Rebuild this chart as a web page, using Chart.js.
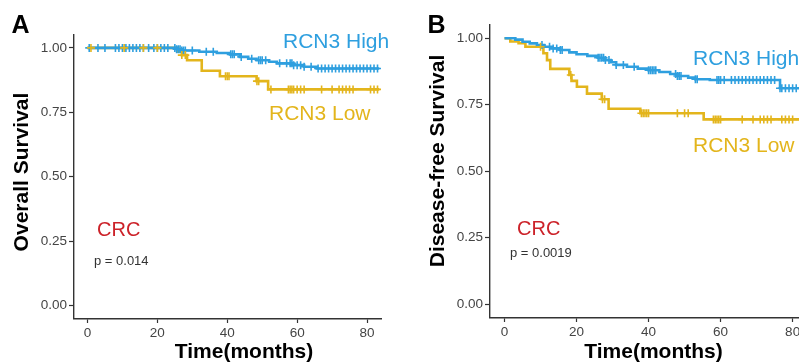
<!DOCTYPE html>
<html>
<head>
<meta charset="utf-8">
<script src="https://cdn.jsdelivr.net/npm/chart.js@4.4.1/dist/chart.umd.min.js"></script>
<style>
  html, body { margin:0; padding:0; background:#fff; }
  #wrap { position:relative; width:799px; height:364px; overflow:hidden; background:#fff; font-family:"Liberation Sans", Arial, sans-serif; }
  canvas { position:absolute; top:0; }
  .t { position:absolute; white-space:nowrap; line-height:1; }
</style>
</head>
<body>
<div id="wrap">
  <canvas id="cA" width="400" height="364" style="left:0px"></canvas>
  <canvas id="cB" width="430" height="364" style="left:400px"></canvas>
</div>
<script>
// ---- tick labels ----
const xTicks = [0, 20, 40, 60, 80];
const xTickLabels = ['0', '20', '40', '60', '80'];
const yTicks = [0, 0.25, 0.5, 0.75, 1];
const yTickLabels = ['0.00', '0.25', '0.50', '0.75', '1.00'];

// ---- Panel A: Overall survival (Kaplan-Meier steps) ----
const osHighTime = [0, 25.5, 27, 32, 37, 40.8, 43.6, 46, 48.4, 52, 54.2, 58.9, 62, 65.6, 83.5];
const osHighSurv = [1, 0.995, 0.99, 0.985, 0.98, 0.975, 0.965, 0.958, 0.952, 0.946, 0.94, 0.933, 0.927, 0.92, 0.92];
const osLowTime = [0, 26, 27, 28.5, 32.7, 37.9, 48.4, 51.7, 83.5];
const osLowSurv = [1, 0.985, 0.972, 0.952, 0.911, 0.89, 0.871, 0.839, 0.839];
const osHighCensor = [0.5, 3, 5, 8, 9, 10, 11, 12, 13, 14, 15, 16, 17.5, 19, 20, 21, 22, 23, 25, 25.5, 26, 26.5, 27, 27.5, 28, 30, 34, 36, 41, 41.5, 42, 44, 47, 49, 49.5, 50, 51, 55, 57, 58, 58.5, 59, 60, 61, 62, 64, 66, 67, 68, 69, 70, 71, 72, 73, 74, 75, 76, 77, 78, 79, 80, 81, 82, 83];
const osLowCensor = [1, 10.5, 16, 20, 27, 28, 39.5, 40, 40.5, 48.5, 49, 52.5, 57.5, 58, 58.5, 59, 60, 61, 62, 67, 70, 72, 73, 74, 75, 76, 81, 82, 83];

// ---- Panel B: Disease-free survival ----
const dfsHighTime = [0, 3, 5, 7, 9, 11, 13, 15.5, 18, 20, 23, 26, 28, 29.5, 31, 34, 37, 40, 43, 46, 48, 51, 53, 57, 76.5, 87];
const dfsHighSurv = [1, 0.995, 0.987, 0.981, 0.975, 0.968, 0.962, 0.956, 0.947, 0.94, 0.934, 0.927, 0.918, 0.91, 0.9, 0.893, 0.886, 0.88, 0.873, 0.866, 0.858, 0.852, 0.846, 0.843, 0.812, 0.812];
const dfsLowTime = [0, 1.6, 3.9, 5.8, 10.8, 11.8, 12.7, 18, 18.6, 20.1, 22.9, 27, 28.9, 37.7, 55.3, 87];
const dfsLowSurv = [1, 0.988, 0.982, 0.968, 0.944, 0.918, 0.885, 0.862, 0.84, 0.818, 0.792, 0.771, 0.735, 0.718, 0.695, 0.695];
const dfsHighCensor = [10.4, 12.5, 13.5, 14.5, 15.5, 16, 26, 26.5, 27, 27.5, 28, 29, 31, 33, 36, 40, 40.5, 41, 41.5, 42, 47.5, 48, 48.5, 49, 53, 53.5, 59, 59.5, 60, 61, 63, 64, 65, 66, 67, 68, 69, 70, 71, 72, 73, 74, 75, 76.5, 77, 78, 79, 80, 81, 82, 83, 84, 85, 86];
const dfsLowCensor = [10, 18.4, 27.2, 27.8, 38, 38.5, 39, 39.5, 40, 48, 50, 51, 58, 58.5, 59, 59.5, 60, 66, 69, 71, 72, 73, 74, 77, 78, 79, 80, 82, 84, 86];

const BLUE = '#2E9FDF';
const YELLOW = '#E3B51C';
const RED = '#CC2229';
const FONT = '"Liberation Sans", Arial, sans-serif';

function stepAt(times, surv, t) {
  let v = surv[0];
  for (let i = 0; i < times.length; i++) { if (times[i] <= t) v = surv[i]; }
  return v;
}
function pts(times, surv) { return times.map((t, i) => ({x: t, y: surv[i]})); }
function cens(ct, times, surv) { return ct.map(t => ({x: t, y: stepAt(times, surv, t)})); }

function makeChart(id, cfg) {
  const lineDs = (data, color, order) => ({
    type: 'line', data, borderColor: color, backgroundColor: color, borderWidth: 2.6,
    stepped: true, pointRadius: 0, fill: false, order
  });
  const censDs = (data, color, order) => ({
    type: 'scatter', data, showLine: false, pointStyle: 'cross', pointRadius: 4,
    pointBorderWidth: 1.6, borderColor: color, backgroundColor: color, order
  });
  return new Chart(document.getElementById(id), {
    type: 'line',
    data: {
      datasets: [
        censDs(cens(cfg.lowC, cfg.lowT, cfg.lowS), YELLOW, 0),
        lineDs(pts(cfg.highT, cfg.highS), BLUE, 1),
        censDs(cens(cfg.highC, cfg.highT, cfg.highS), BLUE, 2),
        lineDs(pts(cfg.lowT, cfg.lowS), YELLOW, 3)
      ]
    },
    options: {
      responsive: false, animation: false, devicePixelRatio: 1,
      layout: { padding: cfg.padding },
      plugins: { legend: { display: false }, tooltip: { enabled: false } },
      scales: {
        x: {
          type: 'linear', min: cfg.xmin, max: cfg.xmax,
          afterBuildTicks: s => { s.ticks = xTicks.map(v => ({value: v})); },
          afterFit: s => { s.height = cfg.xh; },
          ticks: { callback: (v) => xTickLabels[xTicks.indexOf(v)], color: '#444', font: {family: FONT, size: 13.5}, padding: 2, maxRotation: 0 },
          grid: { drawOnChartArea: false, drawTicks: true, tickLength: 4.5, tickColor: '#333', tickWidth: 1.2 },
          border: { display: true, color: '#333', width: 1.4 }
        },
        y: {
          type: 'linear', min: -0.05, max: 1.05,
          afterBuildTicks: s => { s.ticks = yTicks.map(v => ({value: v})); },
          afterFit: s => { s.width = cfg.yw; },
          ticks: { callback: (v) => yTickLabels[yTicks.indexOf(v)], color: '#444', font: {family: FONT, size: 13.5}, padding: 2 },
          grid: { drawOnChartArea: false, drawTicks: true, tickLength: 4.5, tickColor: '#333', tickWidth: 1.2 },
          border: { display: true, color: '#333', width: 1.4 }
        }
      }
    }
  });
}

makeChart('cA', {
  highT: osHighTime, highS: osHighSurv, lowT: osLowTime, lowS: osLowSurv,
  highC: osHighCensor, lowC: osLowCensor,
  xmin: -4, xmax: 84, xh: 45.5, yw: 73.5,
  padding: {top: 35, right: 19, left: 0, bottom: 0}
});
makeChart('cB', {
  highT: dfsHighTime, highS: dfsHighSurv, lowT: dfsLowTime, lowS: dfsLowSurv,
  highC: dfsHighCensor, lowC: dfsLowCensor,
  xmin: -4.17, xmax: 87.6, xh: 46.5, yw: 89.5,
  padding: {top: 25, right: 10, left: 0, bottom: 0}
});

// ---- text overlays ----
const wrap = document.getElementById('wrap');
function txt(s, x, baseline, size, opts = {}) {
  const d = document.createElement('div');
  d.className = 't';
  d.textContent = s;
  d.style.fontSize = size + 'px';
  d.style.fontWeight = opts.bold ? 'bold' : 'normal';
  d.style.color = opts.color || '#000';
  d.style.top = (baseline - 0.8465 * size) + 'px';
  d.style.left = x + 'px';
  if (opts.center) d.style.transform = 'translateX(-50%)';
  wrap.appendChild(d);
}
function vtxt(s, baselineX, cy, size) {
  const d = document.createElement('div');
  d.className = 't';
  d.textContent = s;
  d.style.fontSize = size + 'px';
  d.style.fontWeight = 'bold';
  d.style.color = '#000';
  d.style.left = (baselineX - 0.3465 * size) + 'px';
  d.style.top = cy + 'px';
  d.style.transform = 'translate(-50%, -50%) rotate(-90deg)';
  wrap.appendChild(d);
}

txt('A', 11.5, 33, 25, {bold: true});
txt('B', 427.5, 33, 25, {bold: true});
vtxt('Overall Survival', 27, 172, 21);
vtxt('Disease-free Survival', 443, 160.5, 21);
txt('Time(months)', 244, 358, 21, {bold: true, center: true});
txt('Time(months)', 653.5, 358, 21, {bold: true, center: true});

txt('RCN3 High', 283, 48, 21, {color: BLUE});
txt('RCN3 Low', 269, 120, 21, {color: YELLOW});
txt('RCN3 High', 693, 65, 21, {color: BLUE});
txt('RCN3 Low', 693, 152, 21, {color: YELLOW});

txt('CRC', 97, 236, 20, {color: RED});
txt('p = 0.014', 94, 265, 13, {color: '#333'});
txt('CRC', 517, 235, 20, {color: RED});
txt('p = 0.0019', 510, 257, 13, {color: '#333'});
</script>
</body>
</html>
